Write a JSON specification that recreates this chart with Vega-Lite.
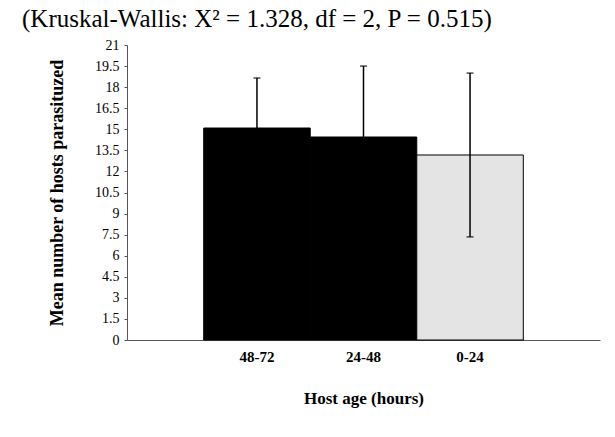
{
  "$schema": "https://vega.github.io/schema/vega-lite/v6.json",
  "autosize": "none",
  "width": 473,
  "height": 295,
  "padding": {"left": 127, "top": 45, "right": 15, "bottom": 97},
  "background": "white",
  "config": {
    "view": {"stroke": null}
  },
  "resolve": {"axis": {"y": "independent"}},
  "title": {
    "text": "(Kruskal-Wallis: X² = 1.328, df = 2, P = 0.515)",
    "anchor": "start",
    "frame": "group",
    "dx": -105,
    "offset": 6,
    "font": "Liberation Serif",
    "fontSize": 25,
    "fontWeight": "normal",
    "color": "black"
  },
  "data": {
    "values": [
      {"age": "48-72", "mean": 15.09, "lo": 11.53, "hi": 18.65},
      {"age": "24-48", "mean": 14.45, "lo": 9.4, "hi": 19.5},
      {"age": "0-24", "mean": 13.17, "lo": 7.34, "hi": 19.0}
    ]
  },
  "encoding": {
    "x": {
      "field": "age",
      "type": "nominal",
      "sort": ["48-72", "24-48", "0-24"],
      "scale": {"paddingInner": 0, "paddingOuter": 0.72},
      "axis": {
        "title": "Host age (hours)",
        "labelAngle": 0,
        "labelFont": "Liberation Serif",
        "labelFontWeight": "bold",
        "labelFontSize": 15,
        "labelColor": "black",
        "labelPadding": 9,
        "ticks": false,
        "domainColor": "#555",
        "domainWidth": 1,
        "titleFont": "Liberation Serif",
        "titleFontWeight": "bold",
        "titleFontSize": 17,
        "titleColor": "black",
        "titlePadding": 26
      }
    }
  },
  "layer": [
    {
      "mark": {"type": "bar", "stroke": "black", "strokeWidth": 1},
      "encoding": {
        "y": {
          "field": "mean",
          "type": "quantitative",
          "scale": {"domain": [0, 21], "nice": false},
          "axis": {
            "values": [0, 1.5, 3, 4.5, 6, 7.5, 9, 10.5, 12, 13.5, 15, 16.5, 18, 19.5, 21],
            "format": ".1~f",
            "labelOverlap": false,
            "grid": false,
            "title": "Mean  number of hosts parasituzed",
            "titleFont": "Liberation Serif",
            "titleFontWeight": "bold",
            "titleFontSize": 18,
            "titleColor": "black",
            "titlePadding": 28,
            "labelFont": "Liberation Serif",
            "labelFontSize": 14,
            "labelColor": "black",
            "labelPadding": 5,
            "tickSize": 3,
            "tickColor": "#555",
            "domainColor": "#555",
            "labelFlush": false
          }
        },
        "fill": {
          "field": "age",
          "type": "nominal",
          "scale": {"domain": ["48-72", "24-48", "0-24"], "range": ["black", "black", "#e4e4e4"]},
          "legend": null
        }
      }
    },
    {
      "mark": {"type": "rule", "color": "black", "strokeWidth": 1.5},
      "encoding": {
        "y": {"field": "lo", "type": "quantitative", "axis": null},
        "y2": {"field": "hi"}
      }
    },
    {
      "mark": {"type": "tick", "color": "black", "size": 7, "thickness": 1.5, "orient": "horizontal"},
      "encoding": {"y": {"field": "hi", "type": "quantitative", "axis": null}}
    },
    {
      "mark": {"type": "tick", "color": "black", "size": 7, "thickness": 1.5, "orient": "horizontal"},
      "encoding": {"y": {"field": "lo", "type": "quantitative", "axis": null}}
    }
  ]
}
